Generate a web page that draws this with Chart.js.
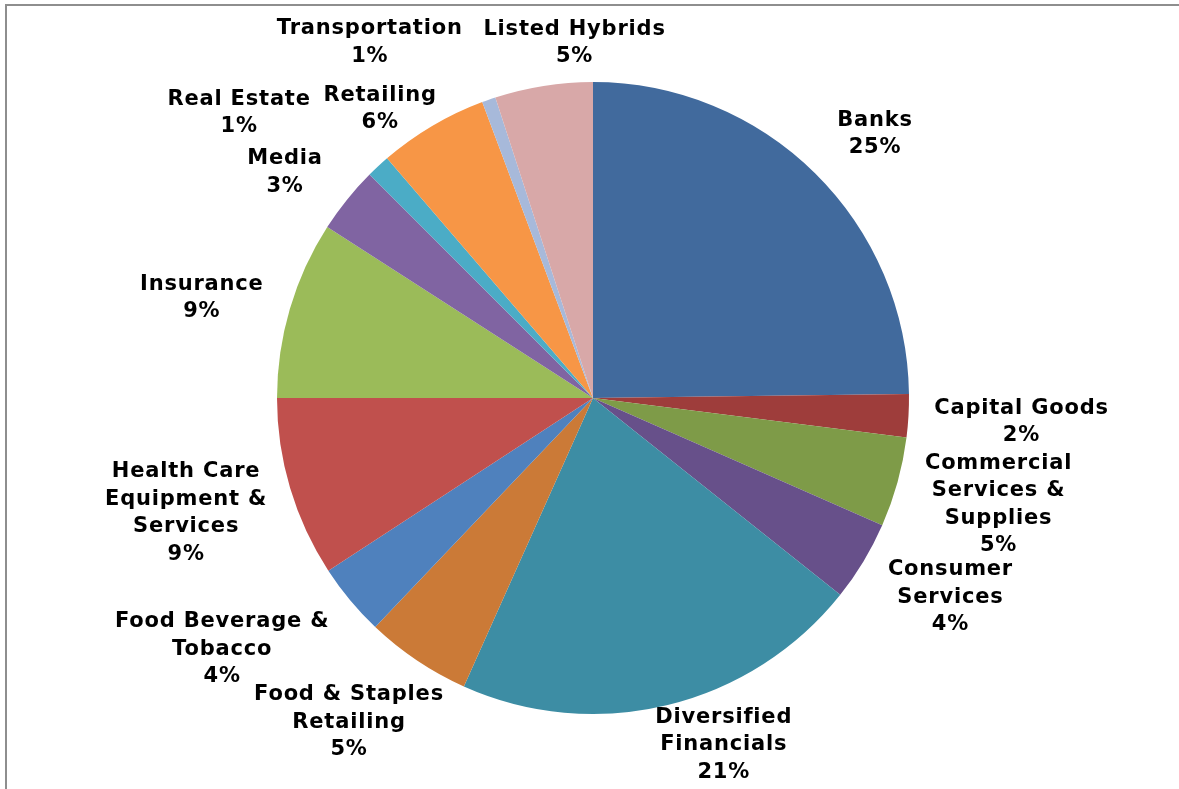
<!DOCTYPE html>
<html lang="en">
<head>
    <meta charset="UTF-8">
    <title>Sector Allocation</title>
    <script src="https://cdn.jsdelivr.net/npm/chart.js@4/dist/chart.umd.min.js"></script>
    <style>
        html, body { margin: 0; padding: 0; background: #ffffff; overflow: hidden; }
        #wrap { position: relative; width: 1179px; height: 789px; }
        #sectorChart { position: absolute; left: 0; top: 0; }
        .frame {
            position: absolute; left: 5px; top: 4px; width: 1200px; height: 820px;
            border-top: 2px solid #8e8e8e; border-left: 2px solid #8e8e8e;
            pointer-events: none;
        }
    </style>
</head>
<body>
<div id="wrap">
    <canvas id="sectorChart" width="1179" height="789"></canvas>
    <div class="frame"></div>
</div>

<script>
    // sector weights (%)
    const sectors = [
        'Banks', 'Capital Goods', 'Commercial Services & Supplies', 'Consumer Services',
        'Diversified Financials', 'Food & Staples Retailing', 'Food Beverage & Tobacco',
        'Health Care Equipment & Services', 'Insurance', 'Media', 'Real Estate',
        'Retailing', 'Transportation', 'Listed Hybrids'
    ];
    const weights = [24.8, 2.2, 4.6, 4.1, 21.0, 5.4, 3.7, 9.2, 9.1, 3.4, 1.2, 5.6, 0.7, 5.0];

    // how each label wraps in the original
    const labelLines = [
        ['Banks'], ['Capital Goods'], ['Commercial', 'Services &', 'Supplies'], ['Consumer', 'Services'],
        ['Diversified', 'Financials'], ['Food & Staples', 'Retailing'], ['Food Beverage &', 'Tobacco'],
        ['Health Care', 'Equipment &', 'Services'], ['Insurance'], ['Media'], ['Real Estate'],
        ['Retailing'], ['Transportation'], ['Listed Hybrids']
    ];

    const sliceColors = [
        '#416a9d', '#9e3d3b', '#7e9b48', '#67508a', '#3d8da4', '#cb7a37', '#4f81bd',
        '#c0504d', '#9bbb59', '#8064a2', '#4bacc6', '#f79646', '#a7b9da', '#d8a8a8'
    ];

    // label centre offset from the middle of each slice's outer edge
    const labelShift = [
        [60, -39], [113, 6], [101, 22], [87, 36], [56, 40], [-68, 62], [-128, 49],
        [-104, 25], [-88, -11], [-62, -27], [-139, -53], [-52, -17], [-119, -57], [31, -43]
    ];

    const outsideLabels = {
        id: 'outsideLabels',
        afterDatasetsDraw(chart) {
            const ctx = chart.ctx;
            const meta = chart.getDatasetMeta(0);
            const total = weights.reduce((a, b) => a + b, 0);
            ctx.save();
            ctx.font = 'bold 21px "DejaVu Sans", Verdana, sans-serif';
            ctx.letterSpacing = '0.8px';
            ctx.fillStyle = '#000000';
            ctx.textAlign = 'center';
            ctx.textBaseline = 'middle';
            const lineH = 27.5;
            meta.data.forEach((arc, i) => {
                const mid = (arc.startAngle + arc.endAngle) / 2;
                const ex = arc.x + Math.cos(mid) * arc.outerRadius;
                const ey = arc.y + Math.sin(mid) * arc.outerRadius;
                const cx = ex + labelShift[i][0];
                const cy = ey + labelShift[i][1];
                const lines = labelLines[i].concat([Math.round(weights[i] / total * 100) + '%']);
                const top = cy - (lines.length - 1) * lineH / 2;
                lines.forEach((t, k) => ctx.fillText(t, cx, top + k * lineH));
            });
            ctx.restore();
        }
    };

    const ctx = document.getElementById('sectorChart').getContext('2d');
    new Chart(ctx, {
        type: 'pie',
        data: {
            labels: sectors,
            datasets: [{
                data: weights,
                backgroundColor: sliceColors,
                borderWidth: 0
            }]
        },
        options: {
            responsive: false,
            animation: false,
            layout: { padding: { top: 82, bottom: 75, left: 277, right: 270 } },
            plugins: {
                legend: { display: false },
                tooltip: { enabled: false }
            }
        },
        plugins: [outsideLabels]
    });
</script>
</body>
</html>
